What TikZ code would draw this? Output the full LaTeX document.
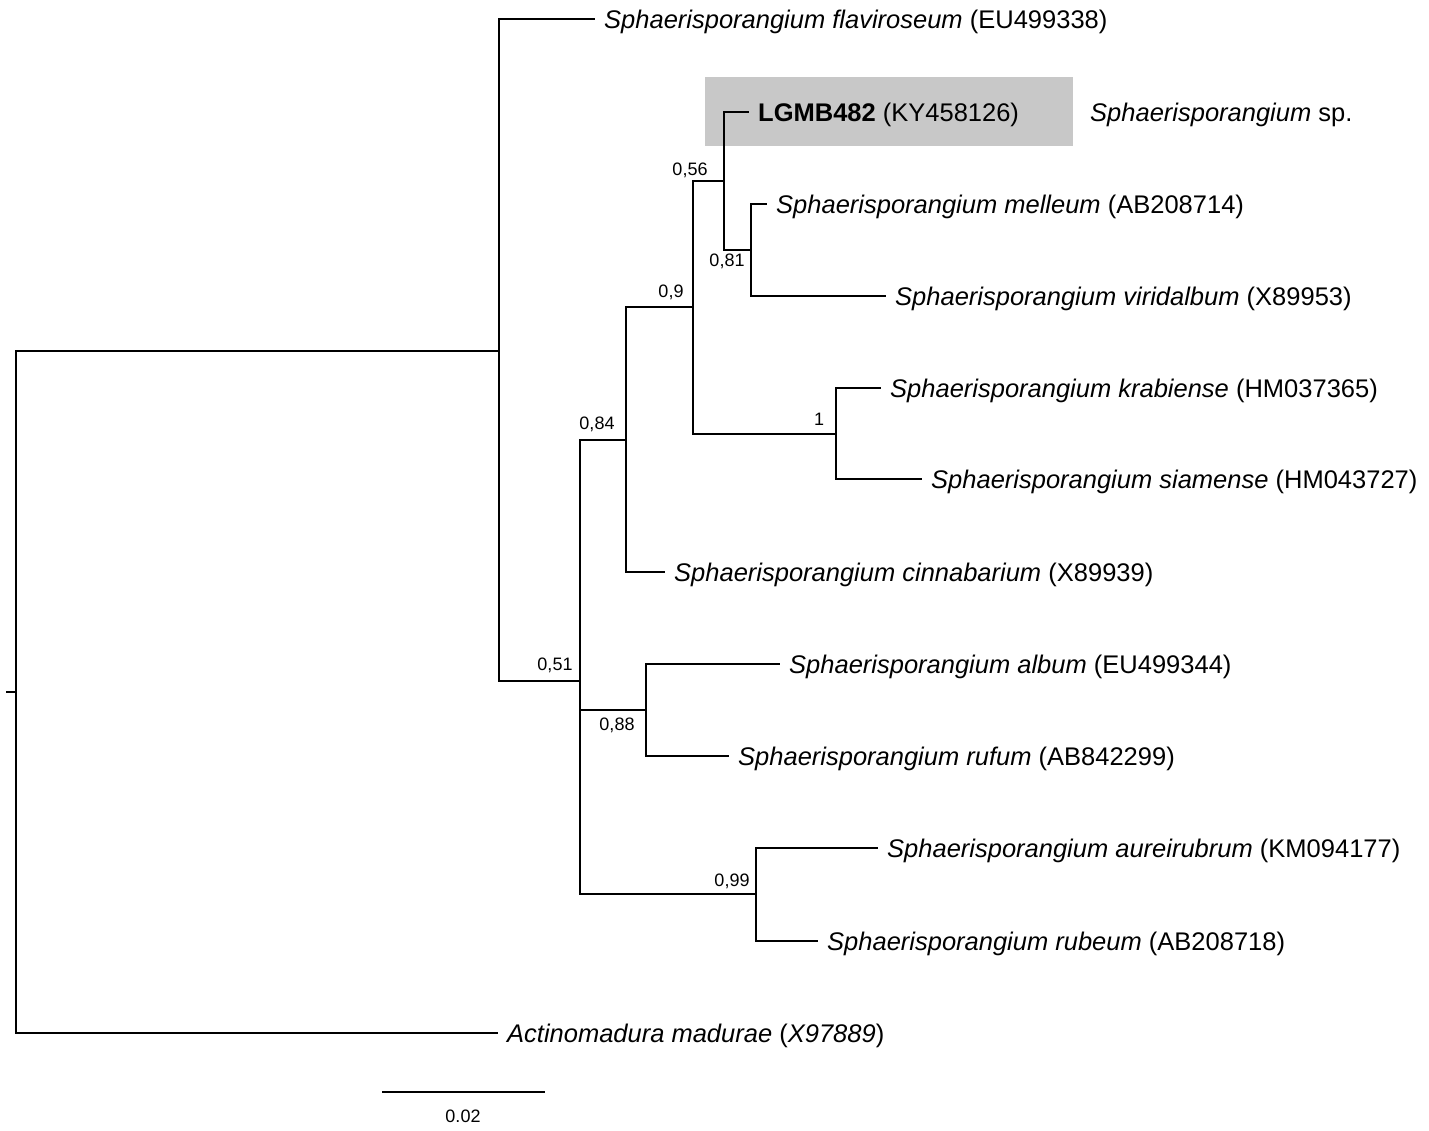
\documentclass[tikz,border=0pt]{standalone}
\usepackage{fontspec}
\setmainfont{Liberation Sans}
\definecolor{hlgray}{HTML}{C8C8C8}
\begin{document}
\begin{tikzpicture}[x=1pt,y=-1pt,
  branch/.style={line width=1.8pt,black},
  leaf/.style={anchor=west,inner ysep=0pt,inner xsep=9pt,text height=18.3pt,text depth=0pt,font=\fontsize{25.5}{30}\selectfont},
  boot/.style={inner sep=0pt,font=\fontsize{18}{21}\selectfont},
  scalelbl/.style={inner sep=0pt,font=\fontsize{18}{21}\selectfont}]
\useasboundingbox (0,0) rectangle (1429,1130);
\fill[hlgray] (705,77) rectangle (1073,146);
% internal nodes
\coordinate (Rt) at (6,692);
\coordinate (R) at (16,692);
\coordinate (A) at (499,351);
\coordinate (B) at (580,681);
\coordinate (C) at (626,440);
\coordinate (D) at (693,307);
\coordinate (E) at (724,181);
\coordinate (F) at (751,250);
\coordinate (G) at (836,434);
\coordinate (H) at (646,710);
\coordinate (I) at (756,894);
% leaves
\node[leaf] (flav) at (595,19) {\textit{Sphaerisporangium flaviroseum} (EU499338)};
\node[leaf] (lgmb) at (749,112) {\textbf{LGMB482} (KY458126)};
\node[leaf] (mell) at (767,204) {\textit{Sphaerisporangium melleum} (AB208714)};
\node[leaf] (viri) at (886,296) {\textit{Sphaerisporangium viridalbum} (X89953)};
\node[leaf] (krab) at (881,388) {\textit{Sphaerisporangium krabiense} (HM037365)};
\node[leaf] (siam) at (922,479) {\textit{Sphaerisporangium siamense} (HM043727)};
\node[leaf] (cinn) at (665,572) {\textit{Sphaerisporangium cinnabarium} (X89939)};
\node[leaf] (albu) at (780,664) {\textit{Sphaerisporangium album} (EU499344)};
\node[leaf] (rufu) at (729,756) {\textit{Sphaerisporangium rufum} (AB842299)};
\node[leaf] (aure) at (878,848) {\textit{Sphaerisporangium aureirubrum} (KM094177)};
\node[leaf] (rube) at (818,941) {\textit{Sphaerisporangium rubeum} (AB208718)};
\node[leaf] (acti) at (498,1033) {\textit{Actinomadura madurae} (\textit{X97889})};
\node[leaf,anchor=west,inner xsep=0pt] (spn) at (1090,112) {\textit{Sphaerisporangium} sp.};
% branches
\draw[branch] (Rt) -- (R);
\draw[branch] (R) |- (A);
\draw[branch] (R) |- (acti.west);
\draw[branch] (A) |- (flav.west);
\draw[branch] (A) |- (B);
\draw[branch] (B) |- (C);
\draw[branch] (B) |- (H);
\draw[branch] (B) |- (I);
\draw[branch] (C) |- (D);
\draw[branch] (C) |- (cinn.west);
\draw[branch] (D) |- (E);
\draw[branch] (D) |- (G);
\draw[branch] (E) |- (lgmb.west);
\draw[branch] (E) |- (F);
\draw[branch] (F) |- (mell.west);
\draw[branch] (F) |- (viri.west);
\draw[branch] (G) |- (krab.west);
\draw[branch] (G) |- (siam.west);
\draw[branch] (H) |- (albu.west);
\draw[branch] (H) |- (rufu.west);
\draw[branch] (I) |- (aure.west);
\draw[branch] (I) |- (rube.west);
% support values
\node[boot] (b051) at (555,665) {0,51};
\node[boot] (b084) at (597,424) {0,84};
\node[boot] (b09) at (671,292) {0,9};
\node[boot] (b056) at (690,170) {0,56};
\node[boot] (b081) at (727,261) {0,81};
\node[boot] (b1) at (819,419) {1};
\node[boot] (b088) at (617,725) {0,88};
\node[boot] (b099) at (732,881) {0,99};
% scale bar
\coordinate (s1) at (382,1092);
\coordinate (s2) at (545,1092);
\draw[line width=1.8pt] (s1) -- (s2);
\node[scalelbl] (sl) at (463,1116) {0.02};
\end{tikzpicture}
\end{document}
